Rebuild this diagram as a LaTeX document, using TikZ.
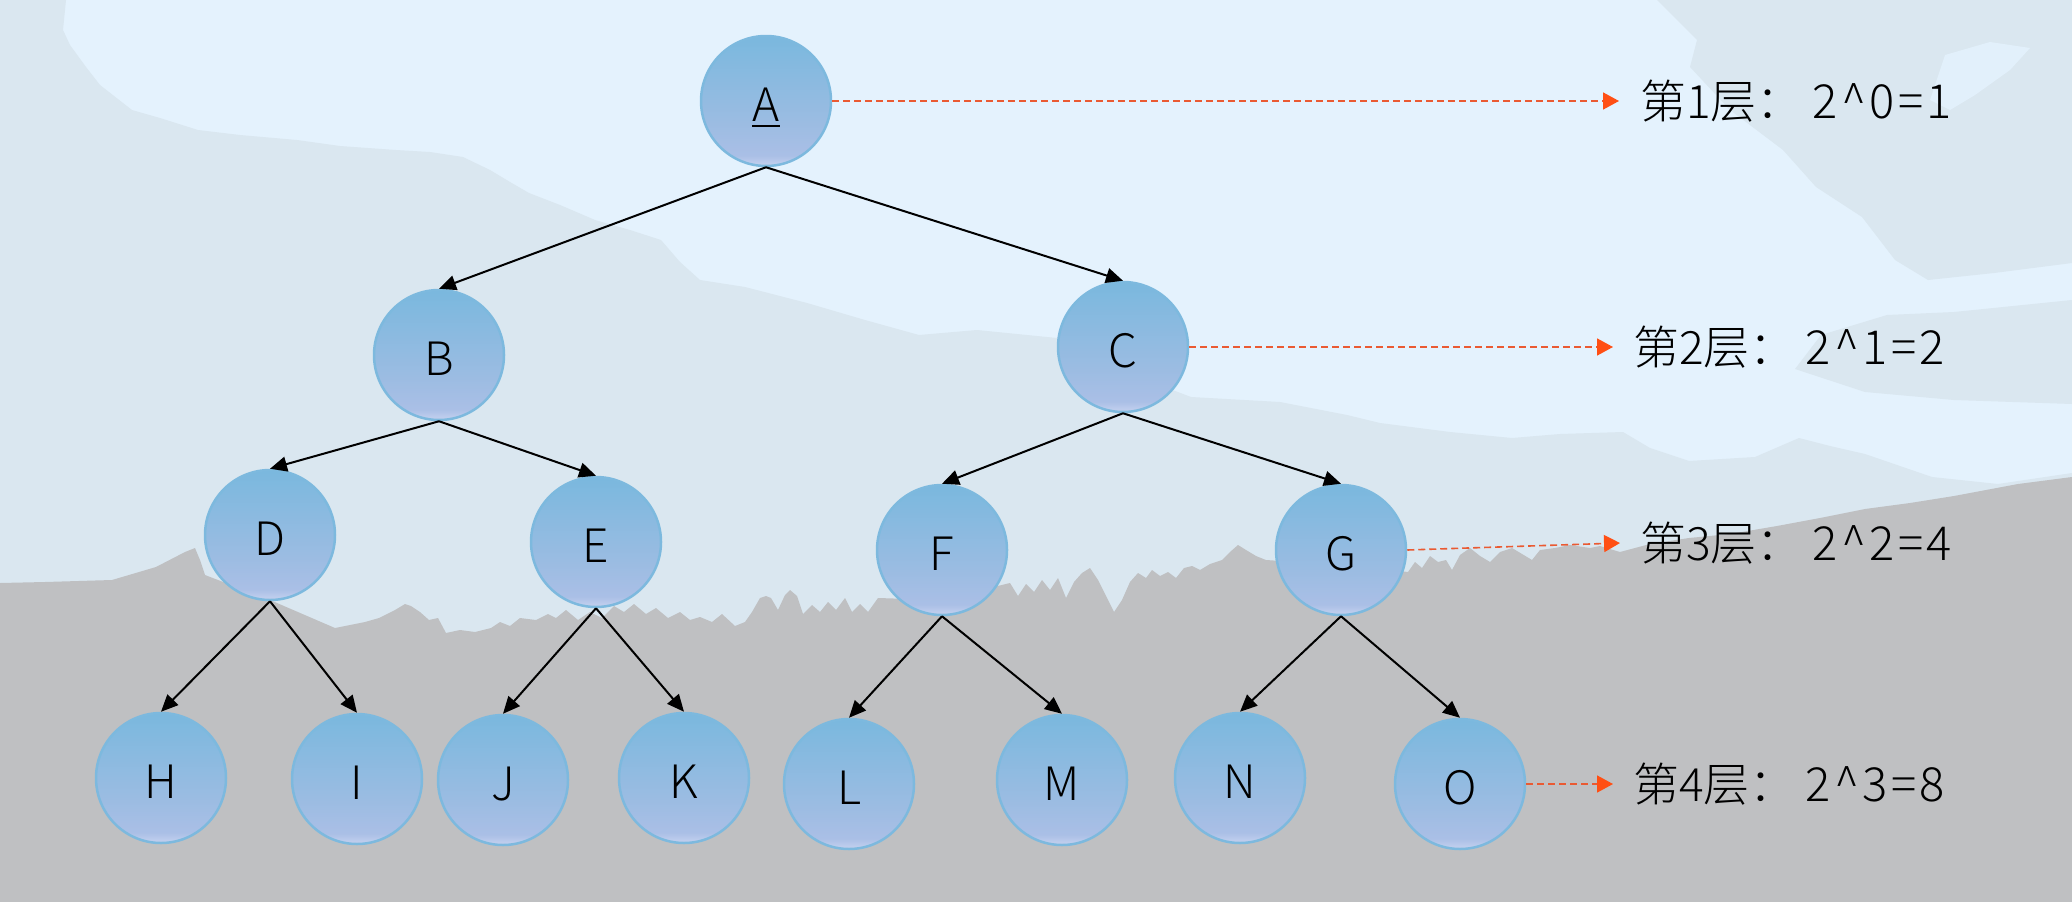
\documentclass[tikz,border=0pt]{standalone}
\usepackage{fontspec}
\setmainfont{Noto Sans CJK SC}[UprightFont={* Light}]
\usetikzlibrary{arrows.meta}
\definecolor{sky}{HTML}{E4F2FD}
\definecolor{skylite}{HTML}{E2F0FB}
\definecolor{midtone}{HTML}{DAE7F0}
\definecolor{hill}{HTML}{BFC0C2}
\definecolor{ntop}{HTML}{7AB8DE}
\definecolor{nmid}{HTML}{9BBCE2}
\definecolor{nlow}{HTML}{AABFE6}
\definecolor{nbot}{HTML}{C6D2EF}
\definecolor{nborder}{HTML}{7DB9DE}
\definecolor{lred}{HTML}{EA5A32}
\definecolor{lredtip}{HTML}{FF4F14}
\pgfdeclareverticalshading{nodeshade}{100bp}{color(0bp)=(nbot); color(25bp)=(nbot); color(29bp)=(nlow); color(42bp)=(nmid); color(75bp)=(ntop); color(100bp)=(ntop)}
\newcommand\myul[1]{\setbox0=\hbox{#1}\rlap{\smash{\rule[-6pt]{\wd0}{2pt}}}\box0}
\newcommand\myeqn[1]{{\fontsize{47}{50}\selectfont\addfontfeatures{LetterSpace=7}#1}}
\tikzset{
  tnode/.style={circle, minimum size=130pt, inner sep=0pt, draw=nborder, line width=2.5pt,
    shading=nodeshade, font=\fontsize{46}{50}\selectfont, text height=40pt, text depth=0pt},
  tedge/.style={line width=2pt, -{Triangle[length=17pt,width=15pt]}},
  ledge/.style={draw=lred, line width=1.6pt, dash pattern=on 7pt off 4pt,
    -{Triangle[length=16pt,width=17pt,color=lredtip]}},
  lab/.style={anchor=base west, inner sep=0pt, font=\fontsize{46}{50}\selectfont}
}
\begin{document}
\begin{tikzpicture}[x=1pt,y=-1pt]
\useasboundingbox (0,0) rectangle (2072,902);
% background
\fill[sky] (0,0) rectangle (2072,902);
\fill[midtone] (1657,0) -- (1697,40) -- (1690,67) -- (1730,110) -- (1783,150) -- (1816,187) -- (1862,217) -- (1895,260) -- (1928,280) -- (1994,273) -- (2072,263) -- (2072,0) -- cycle;
\fill[skylite] (1945,55) -- (1990,42) -- (2030,48) -- (2010,70) -- (1975,95) -- (1950,110) -- (1930,100) -- cycle;
\fill[midtone] (1795,369) -- (1821,335) -- (1887,315) -- (1954,312) -- (2072,300) -- (2072,404) -- (1954,400) -- (1865,392) -- cycle;
\fill[midtone] (0,0) -- (66,0) -- (63,30) -- (70,45) -- (86,67) -- (100,85) -- (132,110) -- (160,118) -- (198,130) -- (240,135) -- (297,140) -- (340,146) -- (396,150) -- (430,152) -- (463,157) -- (490,170) -- (510,182) -- (529,193) -- (560,205) -- (595,220) -- (630,230) -- (661,240) -- (680,262) -- (700,280) -- (745,287) -- (807,303) -- (865,320) -- (919,335) -- (977,330) -- (1057,338) -- (1120,370) -- (1191,397) -- (1280,402) -- (1347,415) -- (1380,423) -- (1450,432) -- (1512,438) -- (1560,434) -- (1623,432) -- (1650,448) -- (1689,461) -- (1755,457) -- (1799,438) -- (1830,446) -- (1865,454) -- (1932,477) -- (1998,484) -- (2072,473) -- (2072,902) -- (0,902) -- cycle;
\fill[hill] (0,583) -- (45,582) -- (112,580) -- (156,567) -- (185,552) -- (195,548) -- (200,560) -- (205,575) -- (270,600) -- (335,628) -- (350,625) -- (365,622) -- (379,618) -- (395,610) -- (405,604) -- (411,606) -- (420,612) -- (429,620) -- (438,618) -- (446,633) -- (460,630) -- (475,632) -- (491,628) -- (500,622) -- (510,626) -- (520,618) -- (536,620) -- (548,614) -- (556,618) -- (566,610) -- (578,620) -- (590,612) -- (602,618) -- (614,606) -- (624,612) -- (634,604) -- (646,614) -- (656,608) -- (668,618) -- (680,612) -- (690,620) -- (700,617) -- (712,622) -- (722,614) -- (735,626) -- (745,622) -- (752,612) -- (760,598) -- (766,596) -- (771,598) -- (778,610) -- (785,595) -- (790,590) -- (797,596) -- (803,614) -- (812,605) -- (820,612) -- (828,602) -- (836,610) -- (845,598) -- (852,612) -- (860,604) -- (868,612) -- (878,598) -- (940,600) -- (1010,583) -- (1018,596) -- (1026,584) -- (1034,592) -- (1042,580) -- (1050,590) -- (1058,578) -- (1066,598) -- (1074,582) -- (1082,573) -- (1090,568) -- (1098,580) -- (1106,596) -- (1114,612) -- (1122,600) -- (1130,582) -- (1138,573) -- (1146,578) -- (1152,570) -- (1160,576) -- (1168,572) -- (1176,578) -- (1184,568) -- (1192,566) -- (1200,570) -- (1210,564) -- (1222,560) -- (1230,552) -- (1238,545) -- (1246,550) -- (1256,556) -- (1266,560) -- (1340,565) -- (1408,572) -- (1415,562) -- (1422,568) -- (1430,556) -- (1438,562) -- (1446,560) -- (1452,570) -- (1460,555) -- (1470,548) -- (1480,556) -- (1490,562) -- (1500,552) -- (1512,548) -- (1522,554) -- (1532,560) -- (1540,550) -- (1555,548) -- (1570,545) -- (1590,548) -- (1600,546) -- (1620,552) -- (1650,544) -- (1689,538) -- (1730,534) -- (1777,526) -- (1820,518) -- (1865,509) -- (1910,503) -- (1954,496) -- (2018,484) -- (2072,477) -- (2072,902) -- (0,902) -- cycle;
% nodes
\node[tnode] (A) at (766,101) {\myul{A}};
\node[tnode] (B) at (439,355) {B};
\node[tnode] (C) at (1123,347) {C};
\node[tnode] (D) at (270,535) {D};
\node[tnode] (E) at (596,542) {E};
\node[tnode] (F) at (942,550) {F};
\node[tnode] (G) at (1341,550) {G};
\node[tnode] (H) at (161,778) {H};
\node[tnode] (I) at (357,779) {I};
\node[tnode] (J) at (503,780) {J};
\node[tnode] (K) at (684,778) {K};
\node[tnode] (L) at (849,784) {L};
\node[tnode] (M) at (1062,780) {M};
\node[tnode] (N) at (1240,778) {N};
\node[tnode] (O) at (1460,784) {O};
% tree edges
\draw[tedge] (A.south) -- (B.north);
\draw[tedge] (A.south) -- (C.north);
\draw[tedge] (B.south) -- (D.north);
\draw[tedge] (B.south) -- (E.north);
\draw[tedge] (C.south) -- (F.north);
\draw[tedge] (C.south) -- (G.north);
\draw[tedge] (D.south) -- (H.north);
\draw[tedge] (D.south) -- (I.north);
\draw[tedge] (E.south) -- (J.north);
\draw[tedge] (E.south) -- (K.north);
\draw[tedge] (F.south) -- (L.north);
\draw[tedge] (F.south) -- (M.north);
\draw[tedge] (G.south) -- (N.north);
\draw[tedge] (G.south) -- (O.north);
% level labels
\coordinate (t1) at (1619,101);
\coordinate (t2) at (1613,347);
\coordinate (t3) at (1620,543);
\coordinate (t4) at (1613,784);
\draw[ledge] (A.east) -- (t1);
\draw[ledge] (C.east) -- (t2);
\draw[ledge] (G.east) -- (t3);
\draw[ledge] (O.east) -- (t4);
\node[lab] (l1) at (1640,118) {第1层： \myeqn{2\textasciicircum0=1}};
\node[lab] (l2) at (1633,364) {第2层： \myeqn{2\textasciicircum1=2}};
\node[lab] (l3) at (1640,560) {第3层： \myeqn{2\textasciicircum2=4}};
\node[lab] (l4) at (1633,801) {第4层： \myeqn{2\textasciicircum3=8}};
\end{tikzpicture}
\end{document}
